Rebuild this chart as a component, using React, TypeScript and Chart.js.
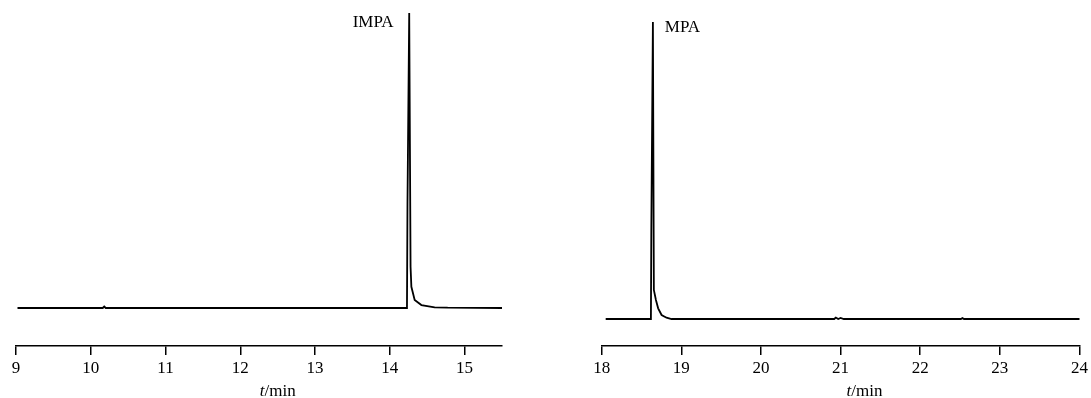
import React, { useEffect, useRef } from "react";
import { Chart, registerables } from "chart.js";

Chart.register(...registerables);

// ---- data ----
const leftTimes = [9.02, 10.16, 10.18, 10.2, 14.229, 14.236, 14.259, 14.277, 14.288, 14.332, 14.422, 14.599, 14.773, 15.5];
const leftValues = [0, 0, 0.5, 0, 0, 36, 100, 14, 7.2, 2.7, 1.0, 0.24, 0.1, 0];
const leftTicks = [9, 10, 11, 12, 13, 14, 15];

const rightTimes = [18.05, 18.618, 18.623, 18.643, 18.655, 18.681, 18.709, 18.752, 18.814, 18.877, 20.92, 20.94, 20.97, 21.0, 21.04, 21.07, 22.51, 22.53, 22.55, 24.0];
const rightValues = [0, 0, 30, 100, 9.8, 6.4, 3.6, 1.35, 0.44, 0, 0, 0.5, 0, 0.35, 0, 0, 0, 0.3, 0, 0];
const rightTicks = [18, 19, 20, 21, 22, 23, 24];

const leftPeakLabel = { text: "IMPA", t: 14.05, v: 96.6, align: "right" };
const rightPeakLabel = { text: "MPA", t: 18.793, v: 98.1, align: "left" };

const axisTitleItalic = "t";
const axisTitleRest = "/min";

const FONT = "'Liberation Serif', 'Times New Roman', serif";

type PanelProps = {
  times: number[];
  values: number[];
  ticks: number[];
  xMin: number;
  xMax: number;
  yMin: number;
  label: { text: string; t: number; v: number; align: string };
  titleT: number;
  left: number;
  width: number;
  padLeft: number;
  padRight: number;
  padTop: number;
};

function Panel(p: PanelProps) {
  const ref = useRef<HTMLCanvasElement | null>(null);
  useEffect(() => {
    if (!ref.current) return;
    const annot = {
      id: "annot",
      afterDraw(chart: any) {
        const ctx = chart.ctx;
        const xs = chart.scales.x;
        const ys = chart.scales.y;
        ctx.save();
        ctx.fillStyle = "#000";
        // peak label
        ctx.font = `17px ${FONT}`;
        ctx.textAlign = p.label.align as CanvasTextAlign;
        ctx.textBaseline = "middle";
        ctx.fillText(p.label.text, xs.getPixelForValue(p.label.t), ys.getPixelForValue(p.label.v));
        // axis title  t/min
        ctx.textBaseline = "alphabetic";
        ctx.textAlign = "left";
        ctx.font = `italic 17px ${FONT}`;
        const w1 = ctx.measureText(axisTitleItalic).width;
        ctx.font = `17px ${FONT}`;
        const w2 = ctx.measureText(axisTitleRest).width;
        const cx = xs.getPixelForValue(p.titleT);
        const x0 = cx - (w1 + w2) / 2;
        const by = chart.height - 2;
        ctx.font = `italic 17px ${FONT}`;
        ctx.fillText(axisTitleItalic, x0, by);
        ctx.font = `17px ${FONT}`;
        ctx.fillText(axisTitleRest, x0 + w1, by);
        ctx.restore();
      },
    };
    const chart = new Chart(ref.current, {
      type: "line",
      data: {
        datasets: [
          {
            data: p.times.map((t, i) => ({ x: t, y: p.values[i] })),
            borderColor: "#000",
            borderWidth: 1.8,
            pointRadius: 0,
            tension: 0,
            fill: false,
            clip: false as any,
          },
        ],
      },
      options: {
        responsive: false,
        animation: false,
        layout: { padding: { left: p.padLeft, right: p.padRight, top: p.padTop, bottom: 0 } },
        plugins: { legend: { display: false }, tooltip: { enabled: false }, title: { display: false } },
        scales: {
          x: {
            type: "linear",
            min: p.xMin,
            max: p.xMax,
            afterBuildTicks: (s: any) => {
              s.ticks = p.ticks.map((v) => ({ value: v }));
            },
            afterFit: (s: any) => {
              s.height = 52;
            },
            border: { display: true, color: "#000", width: 1.5 },
            grid: { drawOnChartArea: false, drawTicks: true, tickLength: 9, color: "#000", lineWidth: 1.5 },
            ticks: {
              color: "#000",
              font: { family: FONT, size: 17 },
              padding: 3,
              maxRotation: 0,
              autoSkip: false,
            },
          },
          y: { display: false, min: p.yMin, max: 100 },
        },
      },
      plugins: [annot],
    });
    return () => chart.destroy();
  }, []);
  return (
    <canvas
      ref={ref}
      width={p.width}
      height={398}
      style={{ position: "absolute", left: p.left, top: 0, width: p.width, height: 398 }}
    />
  );
}

export default function App() {
  return (
    <div style={{ position: "fixed", left: 0, top: 0, width: 1091, height: 398, background: "#fff", overflow: "hidden" }}>
      <Panel
        times={leftTimes}
        values={leftValues}
        ticks={leftTicks}
        xMin={9}
        xMax={15.5}
        yMin={-12.88}
        label={leftPeakLabel}
        titleT={12.5}
        left={0}
        width={545}
        padLeft={16}
        padRight={43}
        padTop={13}
      />
      <Panel
        times={rightTimes}
        values={rightValues}
        ticks={rightTicks}
        xMin={18}
        xMax={24}
        yMin={-9.09}
        label={rightPeakLabel}
        titleT={21.3}
        left={560}
        width={531}
        padLeft={41.7}
        padRight={10.3}
        padTop={22}
      />
    </div>
  );
}
